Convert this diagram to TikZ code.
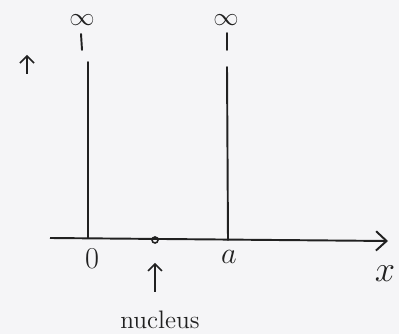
\documentclass[tikz,border=0pt]{standalone}
\usepackage{amsmath,amssymb}
\usepackage{tikz}
\usetikzlibrary{arrows.meta, positioning, calc}

\definecolor{paper}{rgb}{0.96,0.96,0.97}
\definecolor{ink}{rgb}{0.13,0.13,0.13}

\begin{document}
\begin{tikzpicture}[
    x=0.02cm, y=-0.02cm,
    wall/.style={draw=ink, line width=1.1pt, line cap=round},
    axis/.style={draw=ink, line width=1.1pt, -{Straight Barb[length=6pt, width=11pt]}},
    ptr/.style={draw=ink, line width=0.9pt, -{Straight Barb[length=4pt, width=8pt]}},
    lbl/.style={text=ink, inner sep=1pt, font=\Large},
    inflbl/.style={text=ink, inner sep=0pt, font=\Large}
]
    % Paper
    \fill [paper] (0,0) rectangle (399,334);
    \useasboundingbox (0,0) rectangle (399,334);

    % Axis and well walls
    \coordinate (xstart) at (50,238);
    \coordinate (xend) at (388,241);
    \coordinate (wallzero) at (88,238);
    \coordinate (wallzerotop) at (88,62);
    \coordinate (walla) at (228,240);
    \coordinate (wallatop) at (227,67);

    % Infinity marks
    \node [inflbl] (infzero) at (82,20) {$\infty$};
    \node [inflbl] (infa) at (226,20) {$\infty$};
    \coordinate (dashzerotop) at (81,34);
    \coordinate (dashzerobot) at (82,50);
    \coordinate (dashatop) at (227,33);
    \coordinate (dashabot) at (227,50);

    % Labels on the axis
    \node [lbl, font=\LARGE] (lblzero) at (92,259) {$0$};
    \node [lbl, font=\LARGE] (lbla) at (229,257) {$a$};
    \node [lbl, font=\huge] (lblx) at (385,274) {$x$};

    % Nucleus
    \node [circle, draw=ink, line width=0.9pt, minimum size=0.12cm, inner sep=0pt] (nuc) at (155,240) {};
    \node [lbl] (nuclbl) at (160,320) {nucleus};

    % Lone arrow on the left
    \coordinate (uptail) at (27,74);
    \coordinate (uptip) at (27,55);

    % Connecting lines
    \path [axis] (xstart) -- (xend);
    \path [wall] (wallzero) -- (wallzerotop);
    \path [wall] (walla) -- (wallatop);
    \path [wall] (dashzerotop) -- (dashzerobot);
    \path [wall] (dashatop) -- (dashabot);
    \path [ptr, shorten <=0.34cm, shorten >=0.38cm] (nuclbl.north -| nuc) -- (nuc);
    \path [ptr] (uptail) -- (uptip);
\end{tikzpicture}
\end{document}
